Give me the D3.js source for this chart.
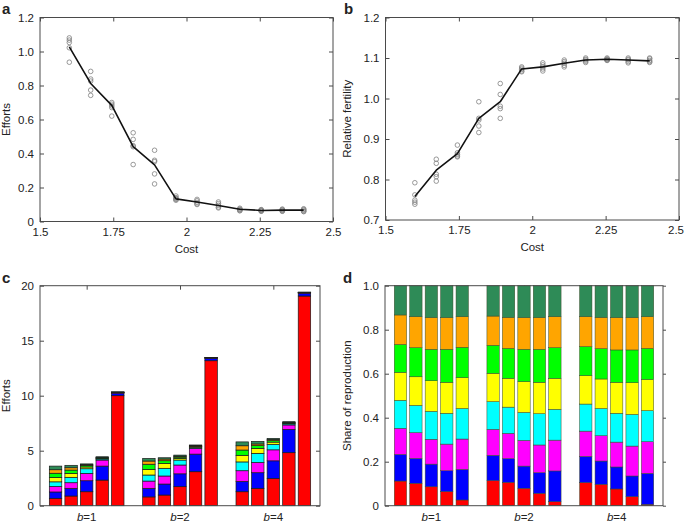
<!DOCTYPE html>
<html><head><meta charset="utf-8">
<script src="https://cdn.jsdelivr.net/npm/d3@7"></script>
<style>
body{margin:0;background:#fff;}
svg text{font-family:"Liberation Sans",Arial,Helvetica,sans-serif;fill:#222;}
</style></head>
<body><svg id="c" width="685" height="524"></svg>
<script>
// ---------- data ----------
const costs = [1.6, 1.673, 1.745, 1.818, 1.891, 1.964, 2.036, 2.109, 2.182, 2.255, 2.327, 2.4];
const effortMean = [1.027, 0.812, 0.683, 0.44, 0.333, 0.133, 0.115, 0.094, 0.072, 0.065, 0.067, 0.067];
const effortRuns = [
  [1.08, 1.067, 1.053, 1.022, 0.937],
  [0.883, 0.838, 0.826, 0.773, 0.742],
  [0.70, 0.69, 0.68, 0.67, 0.62],
  [0.522, 0.483, 0.446, 0.44, 0.335],
  [0.419, 0.36, 0.352, 0.28, 0.221],
  [0.15, 0.14, 0.135, 0.13, 0.125],
  [0.13, 0.122, 0.112, 0.104, 0.10],
  [0.115, 0.105, 0.095, 0.085, 0.08],
  [0.078, 0.073, 0.07, 0.065, 0.063],
  [0.07, 0.068, 0.065, 0.062, 0.06],
  [0.073, 0.07, 0.066, 0.062, 0.06],
  [0.075, 0.07, 0.066, 0.06, 0.058]
];
const fertMean = [0.758, 0.823, 0.864, 0.951, 0.992, 1.073, 1.078, 1.087, 1.095, 1.097, 1.095, 1.093];
const fertRuns = [
  [0.792, 0.762, 0.749, 0.744, 0.739],
  [0.85, 0.84, 0.813, 0.807, 0.796],
  [0.885, 0.866, 0.862, 0.858, 0.856],
  [0.992, 0.951, 0.947, 0.932, 0.916],
  [1.037, 1.01, 0.981, 0.975, 0.951],
  [1.078, 1.075, 1.072, 1.068, 1.066],
  [1.088, 1.083, 1.078, 1.073, 1.068],
  [1.095, 1.091, 1.087, 1.082, 1.078],
  [1.1, 1.097, 1.095, 1.092, 1.089],
  [1.1, 1.098, 1.096, 1.095, 1.094],
  [1.1, 1.097, 1.095, 1.091, 1.088],
  [1.1, 1.098, 1.094, 1.091, 1.089]
];
const costTicks = [1.5, 1.75, 2, 2.25, 2.5];
const costTickLabels = ["1.5", "1.75", "2", "2.25", "2.5"];
const effortTicks = [0, 0.2, 0.4, 0.6, 0.8, 1.0, 1.2];
const effortTickLabels = ["0", "0.2", "0.4", "0.6", "0.8", "1.0", "1.2"];
const fertTicks = [0.7, 0.8, 0.9, 1.0, 1.1, 1.2];
const fertTickLabels = ["0.7", "0.8", "0.9", "1.0", "1.1", "1.2"];

const groups = ["1", "2", "4"];           // b values
const barsPerGroup = 5;
const classes = ["c1","c2","c3","c4","c5","c6","c7","c8"];
const classColors = ["#ff0000","#0000ff","#ff00ff","#00ffff","#ffff00","#00ff00","#ffa500","#2e8b57"];
// panel c: efforts by class (bottom -> top), 15 bars
const effortStack = [
  [0.67, 0.58, 0.50, 0.42, 0.40, 0.38, 0.32, 0.33],
  [0.88, 0.70, 0.51, 0.49, 0.36, 0.30, 0.21, 0.22],
  [1.27, 1.00, 0.67, 0.42, 0.16, 0.12, 0.08, 0.08],
  [2.33, 1.27, 0.55, 0.10, 0.05, 0.05, 0.04, 0.06],
  [10.0, 0.22, 0.06, 0.02, 0.01, 0.01, 0.01, 0.02],
  [0.80, 0.78, 0.66, 0.55, 0.51, 0.47, 0.29, 0.24],
  [0.97, 1.00, 0.73, 0.70, 0.45, 0.24, 0.15, 0.12],
  [1.73, 1.17, 0.80, 0.45, 0.15, 0.12, 0.08, 0.10],
  [3.09, 1.60, 0.52, 0.10, 0.05, 0.04, 0.05, 0.07],
  [13.18, 0.20, 0.04, 0.02, 0.01, 0.01, 0.01, 0.01],
  [1.27, 0.93, 0.98, 0.80, 0.60, 0.48, 0.39, 0.35],
  [1.58, 1.42, 0.93, 0.83, 0.45, 0.25, 0.15, 0.24],
  [2.48, 1.60, 1.00, 0.50, 0.20, 0.14, 0.10, 0.10],
  [4.82, 2.12, 0.40, 0.10, 0.05, 0.04, 0.04, 0.07],
  [19.06, 0.25, 0.04, 0.02, 0.01, 0.01, 0.01, 0.02]
];
const effortStackTicks = [0, 5, 10, 15, 20];
// panel d: share of reproduction by class (bottom -> top), 15 bars
const shareStack = [
  [0.112, 0.121, 0.119, 0.127, 0.127, 0.127, 0.134, 0.133],
  [0.102, 0.113, 0.117, 0.124, 0.130, 0.132, 0.141, 0.141],
  [0.086, 0.103, 0.113, 0.127, 0.139, 0.143, 0.144, 0.145],
  [0.064, 0.095, 0.121, 0.140, 0.141, 0.150, 0.144, 0.145],
  [0.026, 0.139, 0.138, 0.139, 0.140, 0.138, 0.139, 0.141],
  [0.114, 0.115, 0.118, 0.126, 0.129, 0.127, 0.133, 0.138],
  [0.106, 0.108, 0.115, 0.119, 0.131, 0.136, 0.141, 0.144],
  [0.079, 0.101, 0.117, 0.127, 0.140, 0.147, 0.144, 0.145],
  [0.056, 0.094, 0.126, 0.142, 0.143, 0.150, 0.144, 0.145],
  [0.018, 0.140, 0.140, 0.140, 0.141, 0.139, 0.141, 0.141],
  [0.105, 0.119, 0.115, 0.123, 0.129, 0.132, 0.136, 0.141],
  [0.097, 0.106, 0.115, 0.124, 0.134, 0.138, 0.142, 0.144],
  [0.076, 0.100, 0.113, 0.131, 0.141, 0.147, 0.147, 0.145],
  [0.041, 0.094, 0.136, 0.144, 0.144, 0.149, 0.147, 0.145],
  [0.006, 0.141, 0.144, 0.141, 0.142, 0.141, 0.144, 0.141]
];
const shareTicks = [0, 0.2, 0.4, 0.6, 0.8, 1.0];
const shareTickLabels = ["0", "0.2", "0.4", "0.6", "0.8", "1.0"];

// ---------- drawing ----------
const svg = d3.select("#c");
const W = 685;
const FS = "11.5px";
const frameColor = "#4a4a4a";

function frame(g, x0, x1, y0, y1){
  g.append("rect").attr("x", x0).attr("y", y0).attr("width", x1-x0).attr("height", y1-y0)
    .attr("fill","none").attr("stroke", frameColor).attr("stroke-width", 1);
}
function styleAxis(sel){
  sel.select(".domain").remove();
  sel.selectAll(".tick line").attr("stroke", frameColor);
  sel.selectAll(".tick text").style("font-size", FS).attr("fill", "#222");
}
function keepInside(sel){
  // nudge tick labels that would run past the right edge of the picture
  sel.selectAll(".tick text").each(function(){
    const t = d3.select(this);
    const tr = d3.select(this.parentNode).attr("transform");
    const tx = +/translate\(([-\d.]+)/.exec(tr)[1];
    const w = this.getComputedTextLength();
    const over = tx + w/2 - (W - 1);
    if (over > 0) t.attr("x", -over);
  });
}
function panelLetter(t, x, y){
  svg.append("text").attr("x", x).attr("y", y).text(t)
    .style("font-size","15px").style("font-weight","bold");
}

function linePanel(opt){
  const g = svg.append("g");
  const x = d3.scaleLinear().domain([1.5, 2.5]).range([opt.x0, opt.x1]);
  const y = d3.scaleLinear().domain(opt.ydom).range([opt.y1, opt.y0]);
  g.append("g").attr("transform",`translate(0,${opt.y1})`)
    .call(d3.axisBottom(x).tickValues(costTicks).tickFormat((d,i)=>costTickLabels[i]).tickSizeInner(-4).tickSizeOuter(0).tickPadding(6))
    .call(styleAxis).call(keepInside);
  g.append("g").attr("transform",`translate(0,${opt.y0})`)
    .call(d3.axisTop(x).tickValues(costTicks).tickFormat("").tickSizeInner(-4).tickSizeOuter(0))
    .call(styleAxis);
  g.append("g").attr("transform",`translate(${opt.x0},0)`)
    .call(d3.axisLeft(y).tickValues(opt.ticks).tickFormat((d,i)=>opt.tickLabels[i]).tickSizeInner(-4).tickSizeOuter(0).tickPadding(6))
    .call(styleAxis);
  g.append("g").attr("transform",`translate(${opt.x1},0)`)
    .call(d3.axisRight(y).tickValues(opt.ticks).tickFormat("").tickSizeInner(-4).tickSizeOuter(0))
    .call(styleAxis);
  frame(g, opt.x0, opt.x1, opt.y0, opt.y1);
  const pts = [];
  opt.runs.forEach((arr,i)=>arr.forEach(v=>pts.push([costs[i], v])));
  g.append("g").selectAll("circle").data(pts).join("circle")
    .attr("cx", d=>x(d[0])).attr("cy", d=>y(d[1])).attr("r", 2.3)
    .attr("fill","none").attr("stroke","#808080").attr("stroke-width",0.8);
  g.append("path").datum(costs.map((c,i)=>[c, opt.mean[i]]))
    .attr("d", d3.line().x(d=>x(d[0])).y(d=>y(d[1])))
    .attr("fill","none").attr("stroke","#111").attr("stroke-width",1.6).attr("stroke-linejoin","round");
  g.append("text").attr("x", (opt.x0+opt.x1)/2).attr("y", opt.y1+31).attr("text-anchor","middle")
    .style("font-size", FS).text("Cost");
  g.append("text").attr("transform",`translate(${opt.ylabX},${(opt.y0+opt.y1)/2}) rotate(-90)`)
    .attr("text-anchor","middle").style("font-size", FS).text(opt.ylabel);
}

linePanel({x0:40, x1:333, y0:17.5, y1:221.5, ydom:[0,1.2], ticks:effortTicks, tickLabels:effortTickLabels,
  runs:effortRuns, mean:effortMean, ylabel:"Efforts", ylabX:10});
linePanel({x0:385.5, x1:679, y0:17.5, y1:220, ydom:[0.7,1.2], ticks:fertTicks, tickLabels:fertTickLabels,
  runs:fertRuns, mean:fertMean, ylabel:"Relative fertility", ylabX:351});

function barPanel(opt){
  const g = svg.append("g");
  const x = d3.scaleLinear().domain([0, groups.length*(barsPerGroup+1)]).range([opt.x0, opt.x1]);
  const y = d3.scaleLinear().domain(opt.ydom).range([opt.y1, opt.y0]);
  const groupCenters = groups.map((_,gi)=> gi*(barsPerGroup+1) + (barsPerGroup+1)/2);
  g.append("g").attr("transform",`translate(${opt.x0},0)`)
    .call(d3.axisLeft(y).tickValues(opt.ticks).tickFormat((d,i)=>opt.tickLabels[i]).tickSizeInner(-4).tickSizeOuter(0).tickPadding(6))
    .call(styleAxis);
  g.append("g").attr("transform",`translate(${opt.x1},0)`)
    .call(d3.axisRight(y).tickValues(opt.ticks).tickFormat("").tickSizeInner(opt.rightOut ? 3 : -4).tickSizeOuter(0))
    .call(styleAxis);
  g.append("g").attr("transform",`translate(0,${opt.y0})`)
    .call(d3.axisTop(x).tickValues(groupCenters).tickFormat("").tickSizeInner(-4).tickSizeOuter(0))
    .call(styleAxis);
  const keys = classes;
  const rows = opt.data.map((r,i)=>{ const o = {i}; keys.forEach((k,j)=>o[k]=r[j]); return o; });
  const series = d3.stack().keys(keys)(rows);
  const bw = 0.8;
  const pos = i => Math.floor(i/barsPerGroup)*(barsPerGroup+1) + (i%barsPerGroup) + 1;
  series.forEach((s,si)=>{
    g.append("g").selectAll("rect").data(s).join("rect")
      .attr("x", d=>x(pos(d.data.i) - bw/2))
      .attr("width", x(bw) - x(0))
      .attr("y", d=>y(d[1]))
      .attr("height", d=>Math.max(0, y(d[0]) - y(d[1])))
      .attr("fill", classColors[si])
      .attr("stroke", opt.stroke).attr("stroke-width", opt.sw);
  });
  frame(g, opt.x0, opt.x1, opt.y0, opt.y1);
  const lab = g.append("g").selectAll("text").data(groups).join("text")
    .attr("x",(d,gi)=>x(groupCenters[gi])).attr("y", opt.y1+15).attr("text-anchor","middle").style("font-size", FS);
  lab.append("tspan").style("font-style","italic").text("b");
  lab.append("tspan").text(d=>"="+d);
  g.append("text").attr("transform",`translate(${opt.ylabX},${(opt.y0+opt.y1)/2}) rotate(-90)`)
    .attr("text-anchor","middle").style("font-size", FS).text(opt.ylabel);
}

barPanel({x0:40, x1:320, y0:285.7, y1:505.7, ydom:[0,20], ticks:effortStackTicks, tickLabels:effortStackTicks.map(String),
  data:effortStack, ylabel:"Efforts", ylabX:10, stroke:"#1a1a1a", sw:0.7});
barPanel({x0:385, x1:663, y0:285.7, y1:505.7, ydom:[0,1], ticks:shareTicks, tickLabels:shareTickLabels,
  data:shareStack, ylabel:"Share of reproduction", ylabX:351, stroke:"#3a4a2a", sw:0.5, rightOut:true});

panelLetter("a", 2, 14);
panelLetter("b", 344, 14);
panelLetter("c", 2, 283);
panelLetter("d", 343, 283);
</script></body></html>
